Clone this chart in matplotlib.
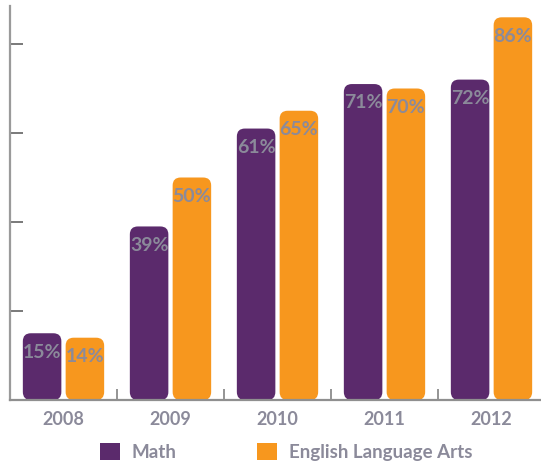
import matplotlib
matplotlib.use("Agg")
import matplotlib.pyplot as plt
from matplotlib.patches import FancyBboxPatch, Patch
import numpy as np

years = ["2008", "2009", "2010", "2011", "2012"]
math_pct = [15, 39, 61, 71, 72]
ela_pct = [14, 50, 65, 70, 86]
series_names = ["Math", "English Language Arts"]

PURPLE = "#5b2a6c"
ORANGE = "#f7971e"
GRAY_TEXT = "#8b8a9a"

W, H, DPI = 541, 466, 100
fig = plt.figure(figsize=(W / DPI, H / DPI), dpi=DPI)

# axes box in pixels: left edge at x=10, baseline at y=400, top at y=6
left_px, base_px, top_px = 10, 400, 6
cat_px = 107.0
ax = fig.add_axes([left_px / W, (H - base_px) / H, (W - left_px) / W, (base_px - top_px) / H])
px_per_pct = 4.45
ax.set_xlim(0, (W - left_px) / cat_px)
ax.set_ylim(0, (base_px - top_px) / px_per_pct)

bar_w = 0.36
offsets = [0.12, 0.52]
radius = 8.0 / cat_px
aspect = cat_px / px_per_pct

x = np.arange(len(years))
for vals, off, color in [(math_pct, offsets[0], PURPLE), (ela_pct, offsets[1], ORANGE)]:
    for xi, v in zip(x, vals):
        box = FancyBboxPatch((xi + off, 0), bar_w, v,
                             boxstyle=f"round,pad=0,rounding_size={radius}",
                             mutation_aspect=aspect, facecolor=color,
                             edgecolor="none", zorder=2)
        ax.add_patch(box)
        ax.annotate(f"{v}%", (xi + off + bar_w / 2, v), xytext=(0, -13.5),
                    textcoords="offset points", ha="center", va="center",
                    fontsize=14, fontweight="bold", family="Lato",
                    color=GRAY_TEXT, zorder=3)

for s in ["top", "right"]:
    ax.spines[s].set_visible(False)
ax.spines["left"].set_color("#9a9a9a")
ax.spines["left"].set_linewidth(1.6)
ax.spines["bottom"].set_color("#8f8f8f")
ax.spines["bottom"].set_linewidth(1.6)
ax.spines["bottom"].set_zorder(4)

ax.set_yticks([20, 40, 60, 80])
ax.set_yticklabels([])
ax.tick_params(axis="y", direction="in", length=9.5, width=1.1, color="#555555")

# small separators between year groups, year names centred below
ax.set_xticks(x[1:], minor=True)
ax.tick_params(axis="x", which="minor", direction="in", length=8, width=1.1, color="#777777")
ax.set_xticks(x + 0.5)
ax.set_xticklabels(years, fontsize=13, fontweight="bold", family="Lato", color=GRAY_TEXT)
ax.tick_params(axis="x", which="major", length=0, pad=8)

handles = [Patch(facecolor=PURPLE, edgecolor="none"), Patch(facecolor=ORANGE, edgecolor="none")]
fig.legend(handles, series_names, loc="center left", bbox_to_anchor=(100 / W, (H - 452) / H),
           ncol=2, frameon=False, handlelength=1.05, handleheight=1.05,
           handletextpad=0.65, columnspacing=4.3, borderpad=0, borderaxespad=0,
           prop={"family": "Lato", "size": 13.5, "weight": "bold"}, labelcolor=GRAY_TEXT)

fig.savefig("out.png", dpi=DPI)
